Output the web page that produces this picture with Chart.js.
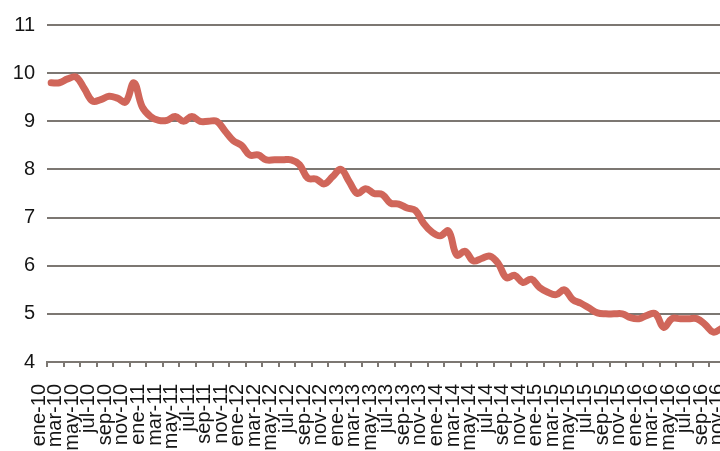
<!DOCTYPE html>
<html>
<head>
<meta charset="utf-8">
<script src="https://cdn.jsdelivr.net/npm/chart.js@4/dist/chart.umd.min.js"></script>
<style>
  html, body { margin: 0; padding: 0; background: #ffffff; overflow: hidden; }
  #wrap { width: 720px; height: 451px; overflow: hidden; position: relative; }
  canvas { display: block; }
</style>
</head>
<body>
<div id="wrap"><canvas id="c" width="771" height="451"></canvas></div>
<script>
// Categories (monthly, ene-10 .. nov-16)
const categories = [
  'ene-10','feb-10','mar-10','abr-10','may-10','jun-10','jul-10','ago-10','sep-10','oct-10','nov-10','dic-10',
  'ene-11','feb-11','mar-11','abr-11','may-11','jun-11','jul-11','ago-11','sep-11','oct-11','nov-11','dic-11',
  'ene-12','feb-12','mar-12','abr-12','may-12','jun-12','jul-12','ago-12','sep-12','oct-12','nov-12','dic-12',
  'ene-13','feb-13','mar-13','abr-13','may-13','jun-13','jul-13','ago-13','sep-13','oct-13','nov-13','dic-13',
  'ene-14','feb-14','mar-14','abr-14','may-14','jun-14','jul-14','ago-14','sep-14','oct-14','nov-14','dic-14',
  'ene-15','feb-15','mar-15','abr-15','may-15','jun-15','jul-15','ago-15','sep-15','oct-15','nov-15','dic-15',
  'ene-16','feb-16','mar-16','abr-16','may-16','jun-16','jul-16','ago-16','sep-16','oct-16','nov-16'
];

// Series values
const values = [
  9.80, 9.80, 9.88, 9.92, 9.68, 9.42, 9.45, 9.52, 9.48, 9.40, 9.80, 9.30,
  9.10, 9.02, 9.02, 9.10, 9.00, 9.10, 9.00, 9.00, 9.00, 8.80, 8.60, 8.50,
  8.30, 8.30, 8.20, 8.20, 8.20, 8.20, 8.10, 7.82, 7.80, 7.70, 7.85, 8.00,
  7.75, 7.50, 7.60, 7.50, 7.48, 7.30, 7.28, 7.20, 7.15, 6.88, 6.70, 6.62,
  6.72, 6.22, 6.30, 6.10, 6.15, 6.20, 6.05, 5.75, 5.80, 5.65, 5.72, 5.55,
  5.45, 5.40, 5.50, 5.30, 5.22, 5.12, 5.02, 5.00, 5.00, 5.00, 4.92, 4.90,
  4.97, 5.00, 4.72, 4.90, 4.90, 4.90, 4.90, 4.78, 4.62, 4.70, 4.78
];

// Y-axis tick range
const yTicks = [4, 5, 6, 7, 8, 9, 10, 11];

const gridColor = '#7c7772';
const lineColor = '#d0665a';
const textColor = '#151515';

new Chart(document.getElementById('c'), {
  type: 'line',
  data: {
    labels: categories,
    datasets: [{
      data: values,
      borderColor: lineColor,
      backgroundColor: lineColor,
      borderWidth: 7,
      borderCapStyle: 'round',
      borderJoinStyle: 'round',
      pointRadius: 0,
      pointHoverRadius: 0,
      tension: 0.4,
      fill: false
    }]
  },
  options: {
    responsive: false,
    animation: false,
    devicePixelRatio: 1,
    layout: { padding: { top: 25, right: 15, left: 0, bottom: 0 } },
    plugins: { legend: { display: false }, tooltip: { enabled: false } },
    scales: {
      x: {
        type: 'category',
        offset: true,
        afterFit: (s) => { s.height = 89; },
        grid: {
          offset: true,
          drawOnChartArea: false,
          drawTicks: true,
          tickLength: 5,
          lineWidth: 2,
          color: (ctx) => (ctx.index !== undefined && ctx.index % 2 === 0) ? gridColor : 'rgba(0,0,0,0)'
        },
        border: { display: true, color: gridColor, width: 2 },
        ticks: {
          autoSkip: false,
          maxRotation: 90,
          minRotation: 90,
          padding: 17,
          labelOffset: -12,
          color: textColor,
          font: { family: 'Liberation Sans, Arial, sans-serif', size: 20 },
          callback: function (val, idx) { return idx % 2 === 0 ? categories[idx] : ''; }
        }
      },
      y: {
        min: yTicks[0],
        max: yTicks[yTicks.length - 1],
        afterFit: (s) => { s.width = 47; },
        afterBuildTicks: (s) => { s.ticks = yTicks.map(v => ({ value: v })); },
        grid: { color: gridColor, lineWidth: 2, drawTicks: false },
        border: { display: false },
        ticks: {
          padding: 12,
          color: textColor,
          font: { family: 'Liberation Sans, Arial, sans-serif', size: 20 }
        }
      }
    }
  }
});
</script>
</body>
</html>
